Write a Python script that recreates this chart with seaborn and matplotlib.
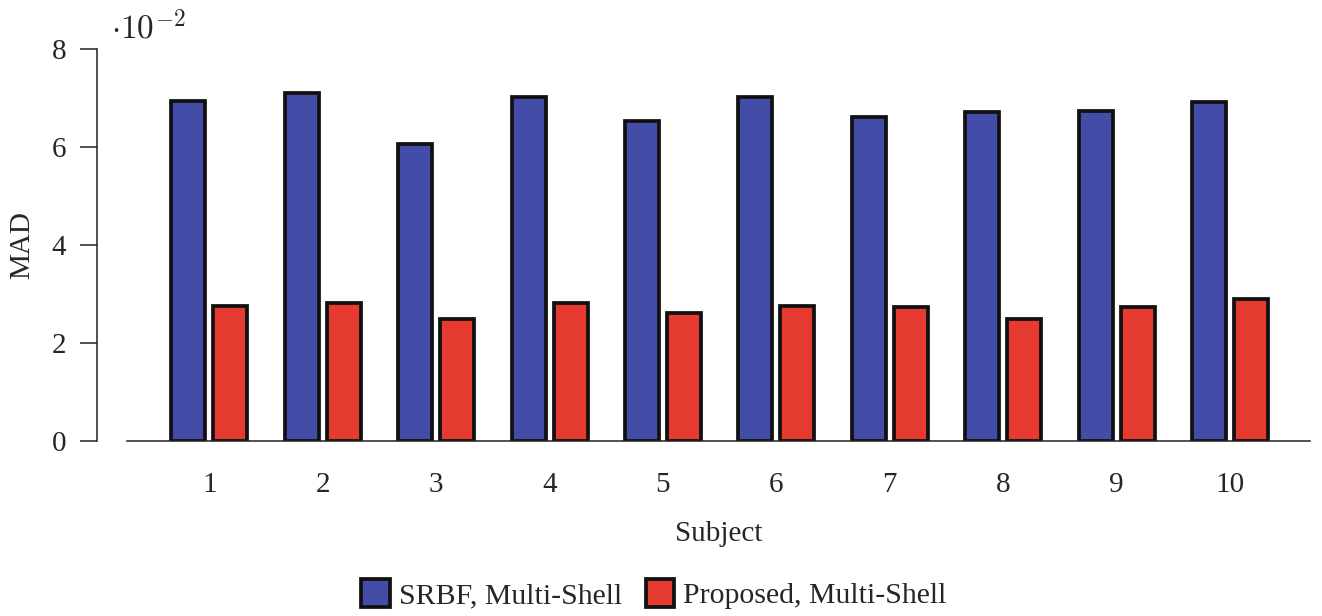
import matplotlib
matplotlib.use("Agg")
import matplotlib.pyplot as plt
from matplotlib.ticker import FuncFormatter
import numpy as np
import pandas as pd
import seaborn as sns

subjects = ["1", "2", "3", "4", "5", "6", "7", "8", "9", "10"]
srbf_mad = [0.0694, 0.0711, 0.0607, 0.0703, 0.0654, 0.0702, 0.0661, 0.0671, 0.0673, 0.0691]
proposed_mad = [0.0275, 0.0281, 0.0248, 0.0281, 0.0261, 0.0275, 0.0273, 0.0250, 0.0273, 0.0290]
methods = ["SRBF, Multi-Shell", "Proposed, Multi-Shell"]
colors = ["#434da8", "#e53a30"]

df = pd.DataFrame({
    "Subject": subjects * 2,
    "MAD": srbf_mad + proposed_mad,
    "Method": [methods[0]] * len(subjects) + [methods[1]] * len(subjects),
})

sns.set_theme(style="ticks")
plt.rcParams["font.family"] = ["Liberation Serif", "DejaVu Serif"]
plt.rcParams["mathtext.fontset"] = "cm"

fig = plt.figure(figsize=(13.22, 6.16), dpi=100)
ax = fig.add_axes([127 / 1322, 1 - 441 / 616, (1310 - 127) / 1322, (441 - 49) / 616])

sns.barplot(data=df, x="Subject", y="MAD", hue="Method", order=subjects,
            hue_order=methods, palette=colors, width=0.74, gap=0.19,
            edgecolor="#111111", linewidth=2.7, saturation=1, ax=ax)

ax.set_xlim(-0.726, 9.705)
ax.set_ylim(0, 0.08)
ax.set_yticks([0, 0.02, 0.04, 0.06, 0.08])
ax.yaxis.set_major_formatter(FuncFormatter(lambda v, p: f"{v * 100:.0f}"))

for s in ["top", "right"]:
    ax.spines[s].set_visible(False)
ax.spines["left"].set_position(("outward", 21.6))
ax.spines["left"].set_bounds(0, 0.08)
for s in ["left", "bottom"]:
    ax.spines[s].set_linewidth(1.1)
    ax.spines[s].set_color("#222222")

ax.tick_params(axis="y", length=12, width=1.1, color="#222222", labelsize=21, pad=10)
ax.tick_params(axis="x", length=0, labelsize=21, pad=22)

ax.set_xlabel("Subject", fontsize=21, labelpad=17)
ax.set_ylabel("MAD", fontsize=21, labelpad=12)

fig.text(111 / 1322, 1 - 28 / 616, r"$\cdot 10^{-2}$", fontsize=24, va="center", ha="left")

handles, labels = ax.get_legend_handles_labels()
ax.get_legend().remove()
fig.legend(handles, labels, loc="center", bbox_to_anchor=(654 / 1322, 1 - 594 / 616),
           ncol=2, frameon=False, fontsize=21.5, handlelength=0.95, handleheight=1.05,
           handletextpad=0.3, columnspacing=0.8)

fig.savefig("out.png", dpi=100)
